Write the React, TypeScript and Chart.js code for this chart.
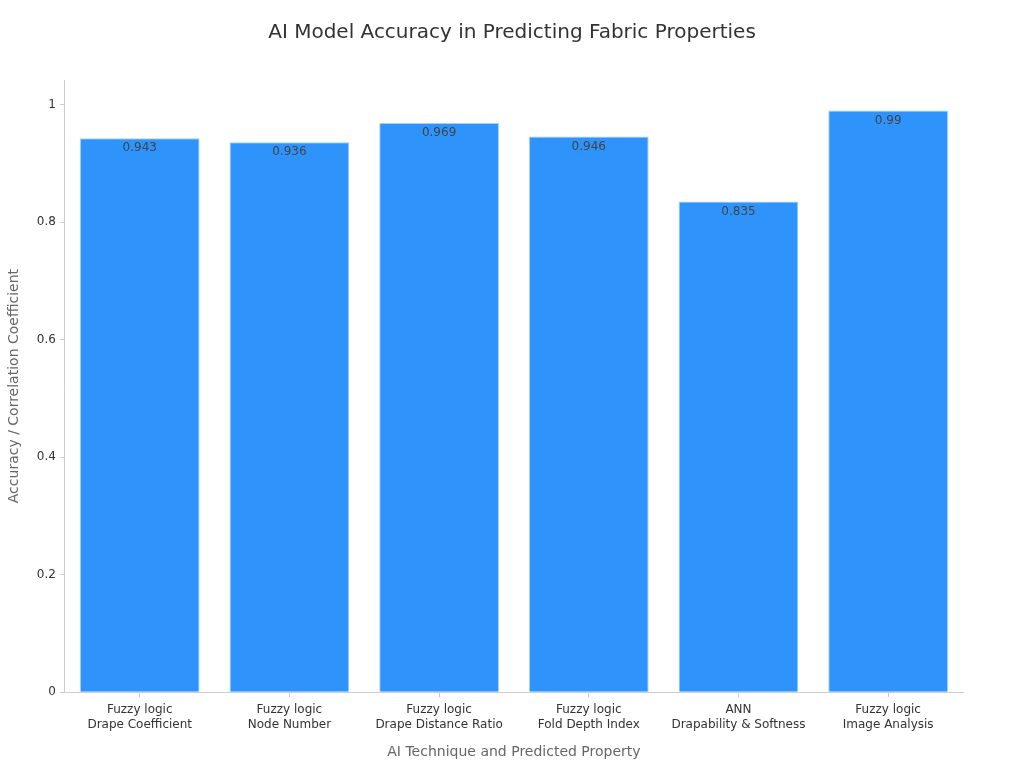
import React, { useEffect, useRef } from "react";
import { Chart, registerables } from "chart.js";

Chart.register(...registerables);

const categories: string[][] = [
  ["Fuzzy logic", "Drape Coefficient"],
  ["Fuzzy logic", "Node Number"],
  ["Fuzzy logic", "Drape Distance Ratio"],
  ["Fuzzy logic", "Fold Depth Index"],
  ["ANN", "Drapability & Softness"],
  ["Fuzzy logic", "Image Analysis"],
];
const values: number[] = [0.943, 0.936, 0.969, 0.946, 0.835, 0.99];
const yTicks: number[] = [0, 0.2, 0.4, 0.6, 0.8, 1];
const yMax = 1.042;
const TITLE = "AI Model Accuracy in Predicting Fabric Properties";

const FONT = "'DejaVu Sans', sans-serif";

const labelPlugin = {
  id: "barLabels",
  afterDatasetsDraw(chart: any) {
    const ctx = chart.ctx;
    const meta = chart.getDatasetMeta(0);
    ctx.save();
    ctx.font = `12px ${FONT}`;
    ctx.fillStyle = "#444444";
    ctx.textAlign = "center";
    ctx.textBaseline = "top";
    meta.data.forEach((bar: any, i: number) => {
      ctx.fillText(String(values[i]), bar.x, bar.y + 4);
    });
    ctx.restore();
  },
  afterDraw(chart: any) {
    const ctx = chart.ctx;
    ctx.save();
    ctx.font = `20px ${FONT}`;
    ctx.fillStyle = "#333333";
    ctx.textAlign = "center";
    ctx.textBaseline = "middle";
    ctx.fillText(TITLE, chart.width / 2, 33);
    ctx.restore();
  },
};

export default function App() {
  const ref = useRef<HTMLCanvasElement>(null);
  useEffect(() => {
    const chart = new Chart(ref.current!, {
      type: "bar",
      data: {
        labels: categories,
        datasets: [
          {
            data: values,
            backgroundColor: "#2E93FA",
            borderColor: "#A9CFF7",
            borderWidth: 1,
            categoryPercentage: 1,
            barPercentage: 0.8,
          },
        ],
      },
      options: {
        animation: false,
        responsive: false,
        layout: { padding: { left: 2, right: 61, top: 80, bottom: 3 } },
        plugins: {
          legend: { display: false },
          tooltip: { enabled: false },
          title: { display: false },
        },
        scales: {
          x: {
            grid: { display: true, offset: false, drawOnChartArea: false, drawTicks: true, tickLength: 5, color: "#cccccc" },
            border: { color: "#cccccc" },
            ticks: { color: "#333333", font: { family: FONT, size: 12, lineHeight: 1.25 }, padding: 5 },
            title: {
              display: true,
              text: "AI Technique and Predicted Property",
              color: "#666666",
              font: { family: FONT, size: 14 },
              padding: { top: 7 },
            },
          },
          y: {
            min: 0,
            max: yMax,
            grid: { display: true, drawOnChartArea: false, drawTicks: true, tickLength: 5, color: "#cccccc" },
            border: { color: "#cccccc" },
            ticks: {
              color: "#333333",
              font: { family: FONT, size: 12 },
              padding: 4,
              callback: (v: any) => String(Math.round(Number(v) * 10) / 10),
            },
            afterBuildTicks: (axis: any) => {
              axis.ticks = yTicks.map((v) => ({ value: v }));
            },
            title: {
              display: true,
              text: "Accuracy / Correlation Coefficient",
              color: "#666666",
              font: { family: FONT, size: 14 },
              padding: { bottom: 10 },
            },
          },
        },
      },
      plugins: [labelPlugin],
    } as any);
    return () => chart.destroy();
  }, []);
  return (
    <div style={{ position: "fixed", left: 0, top: 0, width: 1024, height: 768, background: "#fff" }}>
      <canvas ref={ref} width={1024} height={768} />
    </div>
  );
}
